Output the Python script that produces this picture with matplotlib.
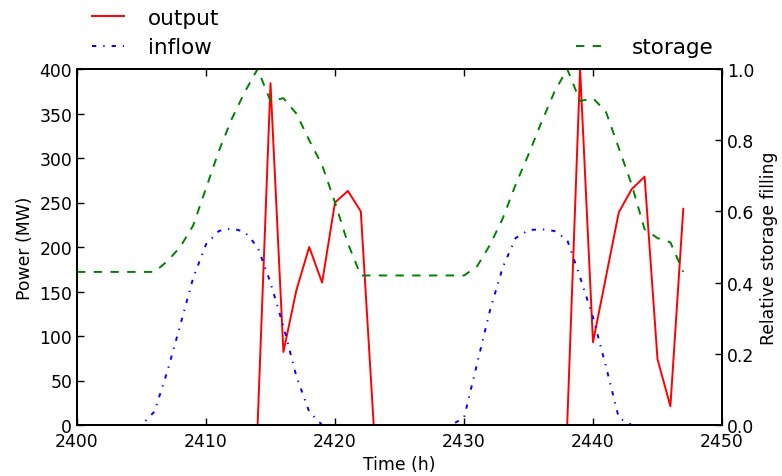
import matplotlib
matplotlib.use("Agg")
import matplotlib.pyplot as plt
import numpy as np

# hourly time axis
hours = np.arange(2400, 2448)

# turbine output (MW)
output = [0] * 15 + [384, 82, 151, 200, 160, 250, 263, 240] + [0] * 16 + \
    [400, 93, 166, 239, 265, 279, 74, 21, 243]

# natural inflow (MW)
inflow = [0, 0, 0, 0, 0, 0, 15, 60, 112, 165, 203, 218, 221, 217, 200, 160,
          111, 55, 15, 0] + [0] * 10 + \
    [8, 68, 128, 177, 210, 219, 220, 218, 208, 166, 121, 66, 8, 0,
     0, 0, 0, 0]

# relative storage filling (0..1)
storage = [0.43] * 7 + [0.46, 0.50, 0.56, 0.665, 0.77, 0.86, 0.935, 1.0,
                        0.91, 0.918, 0.875, 0.80, 0.73, 0.625, 0.51] + \
    [0.42] * 9 + [0.445, 0.505, 0.58, 0.675, 0.76, 0.85, 0.935, 1.0,
                  0.91, 0.918, 0.88, 0.778, 0.675, 0.55, 0.525, 0.513, 0.43]

plt.rcParams["font.family"] = "DejaVu Sans"
plt.rcParams["xtick.direction"] = "in"
plt.rcParams["ytick.direction"] = "in"

fig = plt.figure(figsize=(7.82, 4.77), dpi=100)
ax = fig.add_axes([77 / 782, 51 / 477, 645 / 782, 356 / 477])
ax2 = ax.twinx()

l_out, = ax.plot(hours, output, color="#ff0000", lw=1.4, label="output")
l_in, = ax.plot(hours, inflow, color="#0000ff", lw=1.4,
                linestyle=(0, (2.2, 3.6, 0.7, 3.6)), label="inflow")
l_st, = ax2.plot(hours, storage, color="#008000", lw=1.4,
                 linestyle=(0, (4.3, 4.3)), label="storage")

ax.set_xlim(2400, 2450)
ax.set_ylim(0, 400)
ax2.set_ylim(0, 1.0)
ax.set_xticks(range(2400, 2451, 10))
ax.set_yticks(range(0, 401, 50))
ax2.set_yticks([0.0, 0.2, 0.4, 0.6, 0.8, 1.0])
ax2.set_yticklabels(["0.0", "0.2", "0.4", "0.6", "0.8", "1.0"])

ax.tick_params(axis="x", top=True, labelsize=12.4, length=5, width=1, pad=5)
ax.tick_params(axis="y", labelsize=12.4, length=5, width=1)
ax2.tick_params(axis="y", labelsize=12.4, length=5, width=1)
for a in (ax, ax2):
    for s in a.spines.values():
        s.set_linewidth(1.3)

ax.set_xlabel("Time (h)", fontsize=12.4)
ax.set_ylabel("Power (MW)", fontsize=12.4)
ax2.set_ylabel("Relative storage filling", fontsize=12.4)

ax.legend(handles=[l_out, l_in], loc="lower left",
          bbox_to_anchor=(6 / 645, 1.0 + 3 / 356), frameon=False,
          fontsize=15.5, handlelength=1.5, handletextpad=1.1,
          borderaxespad=0, labelspacing=0.45)
ax2.legend(handles=[l_st], loc="lower right",
           bbox_to_anchor=(1.0, 1.0 + 3 / 356), frameon=False,
           fontsize=15.5, handlelength=1.5, handletextpad=1.1,
           borderaxespad=0)

fig.savefig("out.png", dpi=100)
